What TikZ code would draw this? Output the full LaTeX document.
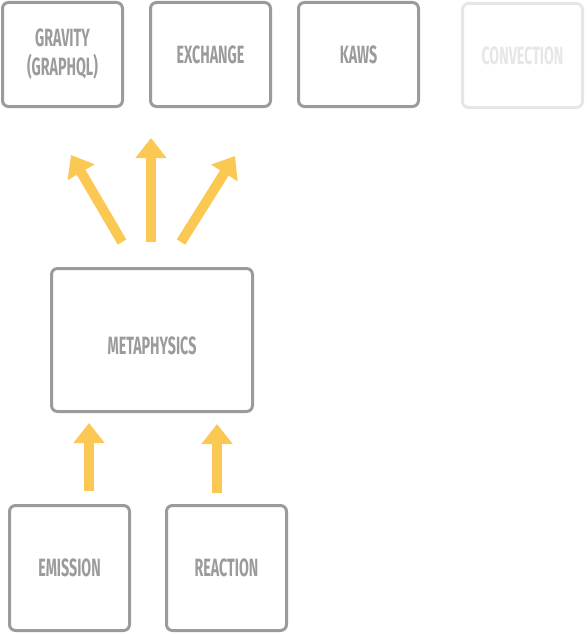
\documentclass[tikz,border=0pt]{standalone}
\usepackage{fontspec}
\usepackage{xcolor}
\usepackage{tikz}
\usetikzlibrary{positioning,arrows.meta}
\newfontfamily\boxfont[FakeStretch=0.57]{Fira Sans}
\definecolor{boxgray}{HTML}{9B9B9B}
\definecolor{fadegray}{HTML}{E6E6E6}
\definecolor{flowyellow}{HTML}{FAC853}

\begin{document}
\begin{tikzpicture}[x=1pt, y=-1pt,
    service/.style={draw=boxgray, line width=3pt, rounded corners=6pt, text=boxgray,
        minimum width=120pt, minimum height=104pt, align=center, inner sep=0pt,
        font=\boxfont\bfseries\fontsize{25}{31}\selectfont},
    faded/.style={service, draw=fadegray, text=fadegray},
    flow/.style={draw=flowyellow, line width=10pt, -{Triangle[width=30pt,length=20pt]}}]
    \useasboundingbox (0,0) rectangle (586,634);

    % Services on top
    \node[service] (gravity) at (62.5,54.5) {\raisebox{-2pt}{GRAVITY}\\(GRAPHQL)};
    \node[service] (exchange) at (210.5,54.5) {EXCHANGE};
    \node[service] (kaws) at (358.5,54.5) {KAWS};
    \node[faded] (convection) at (522.5,55.5) {CONVECTION};

    % Middle
    \node[service, minimum width=201pt, minimum height=143pt] (metaphysics) at (152,340) {\smash{\raisebox{-14pt}{METAPHYSICS}}};

    % Sources
    \node[service, minimum height=125pt] (emission) at (69.5,568) {EMISSION};
    \node[service, minimum height=125pt] (reaction) at (226.5,568) {REACTION};

    % Arrow ends
    \coordinate (upL) at (122,242);
    \coordinate (upLtip) at (71,155);
    \coordinate (upM) at (151,242);
    \coordinate (upMtip) at (151,138);
    \coordinate (upR) at (181,242);
    \coordinate (upRtip) at (235,156);
    \coordinate (emitTail) at (89,491);
    \coordinate (emitTip) at (89,423);
    \coordinate (reactTail) at (217,493);
    \coordinate (reactTip) at (217,424);

    % Flows
    \draw[flow] (upL) -- (upLtip);
    \draw[flow] (upM) -- (upMtip);
    \draw[flow] (upR) -- (upRtip);
    \draw[flow] (emitTail) -- (emitTip);
    \draw[flow] (reactTail) -- (reactTip);
\end{tikzpicture}
\end{document}
